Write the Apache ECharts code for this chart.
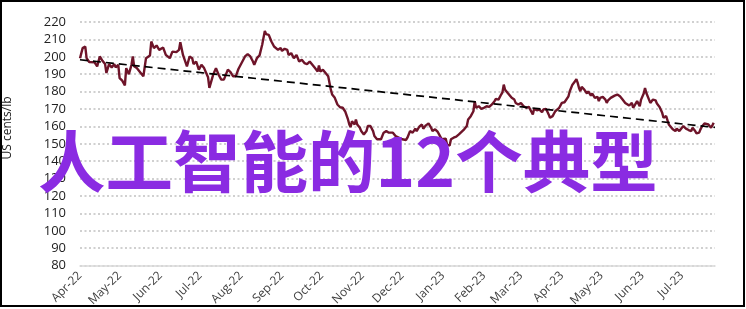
<!DOCTYPE html>
<html>
<head>
<meta charset="utf-8">
<script src="https://cdn.jsdelivr.net/npm/echarts@6/dist/echarts.min.js"></script>
<style>
html,body{margin:0;padding:0;background:#fff;}
#chart{width:746px;height:309px;}
</style>
</head>
<body>
<div id="chart"></div>
<script>
// Day offsets from 1 Apr 2022
const days = [
  0,2,4,5,7,11,13,15,17,19,
  20,22,24,26,27,29,30,32,34,35,
  37,39,40,41,43,46,48,50,53,54,
  56,58,60,63,65,68,70,73,75,76,
  78,81,83,85,86,88,90,92,94,97,
  98,99,101,103,105,107,109,112,114,116,
  118,120,123,125,127,129,131,132,134,136,
  138,140,141,143,145,147,150,152,153,155,
  157,158,160,162,164,166,168,170,172,174,
  176,178,180,181,182,184,186,188,190,191,
  193,195,197,199,201,203,204,205,206,208,
  209,210,212,213,215,217,218,220,222,223,
  225,226,228,230,232,234,235,237,239,240,
  244,247,248,250,252,254,255,257,259,260,
  262,264,266,267,269,271,272,274,277,278,
  280,281,283,285,287,288,291,293,294,296,
  298,299,300,302,304,306,308,310,312,314,
  315,317,319,320,321,322,324,325,327,329,
  330,332,334,336,338,340,341,343,344,346,
  348,350,351,353,355,356,358,360,363,365,
  367,368,370,371,372,373,375,376,377,378,
  379,380,382,383,384,385,387,388,390,392,
  393,394,396,398,399,400,402,403,405,407,
  408,409,411,412,413,414,416,418,419,420,
  422,423,424,425,427,428,429,431,432,433,
  434,436,437,438,439,441,442,443,444,446,
  447,449,450,451,452,454,455,457,459,461,
  462,463,464,466,467,469,470,471,473,474,
  476,478,479,480
];
// Price, US cents/lb
const prices = [
  199.2,205,205.9,199.2,197,196.8,194.5,200.2,197.7,195.8,
  190.7,195.8,193.9,195.8,193.9,195.4,187.8,186.3,183.6,193.5,
  190,195.4,200.2,194.5,193.5,190.7,188.8,199.2,200.8,208.8,
  205,206.5,204,205.3,201.1,199.2,203,202.7,204,208.4,
  201.1,194.5,200.2,199.2,195.8,197.3,192.6,195.4,193.5,188.2,
  182.1,181.5,190,193.5,189.7,186.9,186.9,192.6,191.2,188.8,
  188.8,193,197.3,200.2,201.5,200.2,197.3,195.4,199.2,200.8,
  206.9,214.9,213,212.6,208.8,205.9,204,205,203.4,204.6,
  204,201.1,202.1,199.2,201.1,197.3,198.3,196.4,195.8,197.3,
  195.4,193.5,191.6,195,191.6,192.6,190.7,188.8,181.1,178.3,
  176.4,172.6,171,170.7,168.4,164,161.1,159.6,163,161.1,
  164,161.1,159.2,157.3,155.4,157.3,160.2,160.2,157.3,154.5,
  152.6,151.6,152.6,156.4,157.3,156.4,157.3,156.4,154.5,153.5,
  152.6,152.2,153.5,157.3,156.4,158.7,157.3,159.8,161.1,158.7,
  160.6,161.7,159.2,157.3,158.3,156.8,155.4,152.6,153,149.7,
  149,152.6,153.5,154.1,155.4,156.4,158.3,160.2,164,165.9,
  168.7,174.5,170.7,171.6,170.1,170.7,171.6,171.2,172.6,174.5,
  175.8,175.4,178.3,179.6,184,181.1,179.2,178.3,176.4,175.4,
  173.5,172.6,173.5,171.6,170.7,171.2,169.7,166.9,170.1,169.3,
  169.7,168.2,169.7,170.1,166.9,165,165.9,168.7,170.7,173.5,
  173.9,173.1,177.3,180.2,181.1,184,185.9,187.2,185,182.1,
  180.2,182.7,181.1,182.1,178.9,180.2,177.7,178.9,176.4,177,
  174.5,176.4,177,175.4,173.5,175,176.4,177.3,177.7,178.3,
  178.9,177.3,175.4,176.4,173.5,172.6,172,173.5,170.7,172,
  174.5,173.5,171.6,175.4,178.9,182.1,179.2,175.4,173.5,174.1,
  175.4,175,173.1,173.5,171.2,167.8,165,164,165.9,161.1,
  160.2,158.3,159.2,157.3,158.7,157.3,158.3,160.2,158.7,157.9,
  158.3,157.3,159.2,157.3,156,156.4,158.3,159.8,161.7,162.5,
  161.1,159.2,160.6,162.1
];
// Linear trend (start / end)
const trendDays = [0, 481];
const trendValues = [198.3, 159.4];
// Month tick labels
const monthLabels = ['Apr-22','May-22','Jun-22','Jul-22','Aug-22','Sep-22','Oct-22','Nov-22','Dec-22','Jan-23','Feb-23','Mar-23','Apr-23','May-23','Jun-23','Jul-23'];
const monthStartDays = [0,30,61,91,122,153,183,214,244,275,306,334,365,395,426,456];
const axisName = 'US cents/lb';
const overlayText = '人工智能的12个典型';

const priceData = days.map((d, i) => [d, prices[i]]);
const trendData = trendDays.map((d, i) => [d, trendValues[i]]);

const chart = echarts.init(document.getElementById('chart'), null, {renderer: 'canvas'});
chart.setOption({
  animation: false,
  backgroundColor: '#fff',
  grid: {left: 80, right: 31, top: 22, bottom: 42},
  xAxis: {
    type: 'value',
    min: 0,
    max: 481,
    axisLine: {show: true, lineStyle: {color: '#d9d9d9', width: 1.5}},
    axisTick: {show: false},
    splitLine: {show: false},
    axisLabel: {
      customValues: monthStartDays,
      formatter: function (v) {
        const i = monthStartDays.indexOf(Math.round(v));
        return i >= 0 ? monthLabels[i] : '';
      },
      rotate: 45,
      margin: 8,
      fontSize: 12,
      color: '#404040',
      fontFamily: 'Open Sans'
    }
  },
  yAxis: {
    type: 'value',
    min: 80,
    max: 220,
    interval: 10,
    axisLine: {show: false},
    axisTick: {show: false},
    axisLabel: {fontSize: 13, color: '#222', margin: 14, fontFamily: 'Open Sans'},
    splitLine: {show: true, lineStyle: {color: '#d0d0d0', width: 2, type: [2, 2.5]}}
  },
  series: [
    {
      type: 'line',
      data: priceData,
      symbol: 'none',
      lineStyle: {color: '#6e1429', width: 2.4},
      z: 3
    },
    {
      type: 'line',
      data: trendData,
      symbol: 'none',
      lineStyle: {color: '#000', width: 1.7, type: [8, 5]},
      z: 4
    }
  ],
  graphic: [
    {
      type: 'text',
      x: 8, y: 128,
      rotation: Math.PI / 2,
      style: {
        text: axisName,
        fill: '#222',
        font: '12px "Open Sans"',
        textAlign: 'center',
        textVerticalAlign: 'middle'
      }
    },
    {
      type: 'text',
      x: 38, y: 161,
      z: 100,
      style: {
        text: overlayText,
        fill: '#8a2be2',
        font: 'bold 67.5px "Noto Sans CJK SC"',
        textAlign: 'left',
        textVerticalAlign: 'middle'
      }
    },
    {
      type: 'rect',
      z: 100,
      shape: {x: 1, y: 1, width: 743, height: 305},
      style: {fill: null, stroke: '#000', lineWidth: 2}
    }
  ]
});
</script>
</body>
</html>
